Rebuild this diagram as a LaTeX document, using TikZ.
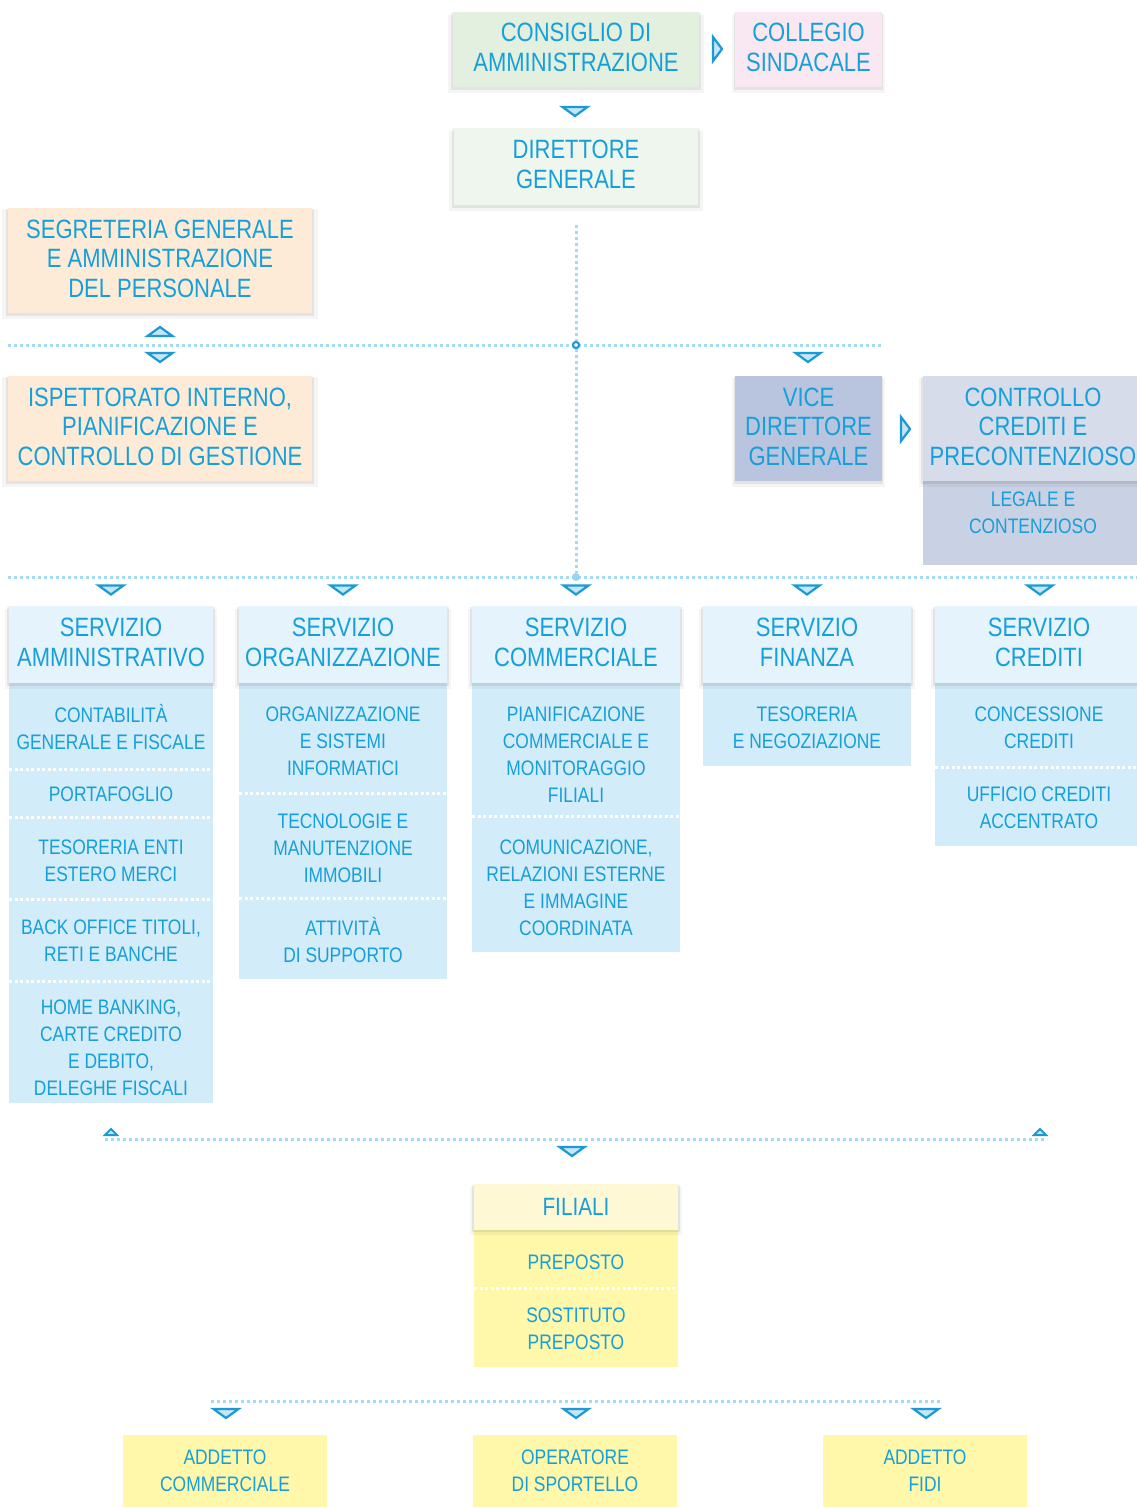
\documentclass[tikz,border=0pt]{standalone}
\usepackage{fontspec}
\setmainfont{Liberation Sans}[FakeStretch=0.83]
\usetikzlibrary{shadows}
\definecolor{tblue}{HTML}{169FD8}
\definecolor{dotc}{HTML}{A3DAF5}
\definecolor{ablue}{HTML}{1B9AD6}
\definecolor{afill}{HTML}{C4E6F7}
\definecolor{cgreen}{HTML}{E3F0DF}
\definecolor{cpink}{HTML}{F9E7F1}
\definecolor{cgreenl}{HTML}{EFF6ED}
\definecolor{cpeach}{HTML}{FDEBD7}
\definecolor{cvice}{HTML}{B9C4DF}
\definecolor{cctrl}{HTML}{D6DCEA}
\definecolor{cctrlsub}{HTML}{C9D1E4}
\definecolor{cbh}{HTML}{E5F4FC}
\definecolor{cbs}{HTML}{D3ECF9}
\definecolor{cyh}{HTML}{FEF9D4}
\definecolor{cys}{HTML}{FFF7AA}
\newcommand\hfnt{\fontsize{26.5}{29.5}\selectfont}
\newcommand\ffnt{\fontsize{25}{29}\selectfont}
\newcommand\sfnt{\fontsize{21}{27}\selectfont}
\tikzset{
  box/.style={rectangle, inner sep=0pt, align=center, text=tblue},
  hf/.style={font=\hfnt, text depth=4.5pt},
  sf/.style={font=\sfnt},
  sh/.style={general shadow={fill=black,opacity=0.07,shadow scale=1.015,shadow yshift=-2pt},
             general shadow={fill=black,opacity=0.04,shadow scale=1.04,shadow yshift=-4pt}},
  dots/.style={draw=dotc, line width=3pt, dash pattern=on 3pt off 3pt},
  sepl/.style={draw=white, line width=3pt, dash pattern=on 3pt off 2.5pt},
  arrs/.style={draw=ablue, fill=afill, line width=2.2pt, line join=miter},
  tdown/.pic={\draw[arrs] (-12.5,-4) -- (12.5,-4) -- (0,5) -- cycle;},
  tup/.pic={\draw[arrs] (-12.5,4) -- (12.5,4) -- (0,-5) -- cycle;},
  tupsm/.pic={\draw[arrs, line width=2pt] (-6,2.5) -- (6,2.5) -- (0,-3.5) -- cycle;},
  tright/.pic={\draw[arrs] (-4,-12) -- (-4,12) -- (5,0) -- cycle;},
}
\begin{document}
\begin{tikzpicture}[x=1pt,y=-1pt]
\path[use as bounding box] (0,0) rectangle (1137,1508);
\clip (0,0) rectangle (1137,1508);
\fill[white] (0,0) rectangle (1137,1508);

% bus coordinates
\coordinate (b1l) at (8,345);
\coordinate (b1r) at (882,345);
\coordinate (b2l) at (8,577);
\coordinate (b2r) at (1143,577);
\coordinate (b3l) at (105,1139);
\coordinate (b3r) at (1047,1139);
\coordinate (b4l) at (211,1401);
\coordinate (b4r) at (940,1401);
\coordinate (vtop) at (576,225);

\draw[dots] (b1l) -- (b1r);
\draw[dots] (b2l) -- (b2r);
\draw[dots] (b3l) -- (b3r);
\draw[dots] (b4l) -- (b4r);
\node[circle, draw=ablue, fill=white, line width=2pt, inner sep=0pt, minimum size=6pt] (j1) at (576,345) {};
\node[circle, fill=dotc!90!ablue, inner sep=0pt, minimum size=8pt] (j2) at (576,577) {};
\draw[dots] (vtop) -- (j1);
\draw[dots] (j1) -- (j2);
\node[circle, draw=ablue, fill=white, line width=2pt, inner sep=0pt, minimum size=6pt] at (j1) {};

% top
\node[box,hf,sh,fill=cgreen,minimum width=246pt,minimum height=75pt] (cda) at (576,49.5) {CONSIGLIO DI\\AMMINISTRAZIONE};
\node[box,hf,sh,fill=cpink,minimum width=147pt,minimum height=75pt] (cs) at (808.5,49.5) {COLLEGIO\\SINDACALE};
\node[box,hf,sh,fill=cgreenl,minimum width=244pt,minimum height=77pt] (dg) at (576,166.5) {DIRETTORE\\GENERALE};

\node[box,hf,sh,fill=cpeach,minimum width=304pt,minimum height=105pt] (seg) at (160,260.5) {SEGRETERIA GENERALE\\E AMMINISTRAZIONE\\DEL PERSONALE};
\node[box,hf,sh,fill=cpeach,minimum width=304pt,minimum height=105pt] (isp) at (160,428.5) {ISPETTORATO INTERNO,\\PIANIFICAZIONE E\\CONTROLLO DI GESTIONE};

\node[box,hf,sh,fill=cvice,minimum width=147pt,minimum height=105pt] (vdg) at (808.5,428.5) {VICE\\DIRETTORE\\GENERALE};
\node[box,fill=cctrlsub,minimum width=220pt,minimum height=84pt] (ctrlb) at (1033,523) {};
\node[box,hf,sh,fill=cctrl,minimum width=220pt,minimum height=105pt] (ctrl) at (1033,428.5) {CONTROLLO\\CREDITI E\\PRECONTENZIOSO};
\node[box,sf] (leg) at (1033,513) {LEGALE E\\CONTENZIOSO};

% service columns: sub backgrounds
\node[box,fill=cbs,minimum width=204pt,minimum height=420pt] (s1b) at (111,893) {};
\node[box,fill=cbs,minimum width=208pt,minimum height=296pt] (s2b) at (343,831) {};
\node[box,fill=cbs,minimum width=208pt,minimum height=269pt] (s3b) at (576,817.5) {};
\node[box,fill=cbs,minimum width=208pt,minimum height=83pt] (s4b) at (807,724.5) {};
\node[box,fill=cbs,minimum width=208pt,minimum height=163pt] (s5b) at (1039,764.5) {};

% separators
\draw[sepl] (9,769) -- (213,769);
\draw[sepl] (9,817) -- (213,817);
\draw[sepl] (9,899) -- (213,899);
\draw[sepl] (9,981) -- (213,981);
\draw[sepl] (239,793) -- (447,793);
\draw[sepl] (239,898) -- (447,898);
\draw[sepl] (472,816) -- (680,816);
\draw[sepl] (935,767) -- (1143,767);

% headers
\node[box,hf,sh,fill=cbh,minimum width=204pt,minimum height=77pt] (s1) at (111,644.5) {SERVIZIO\\AMMINISTRATIVO};
\node[box,hf,sh,fill=cbh,minimum width=208pt,minimum height=77pt] (s2) at (343,644.5) {SERVIZIO\\ORGANIZZAZIONE};
\node[box,hf,sh,fill=cbh,minimum width=208pt,minimum height=77pt] (s3) at (576,644.5) {SERVIZIO\\COMMERCIALE};
\node[box,hf,sh,fill=cbh,minimum width=208pt,minimum height=77pt] (s4) at (807,644.5) {SERVIZIO\\FINANZA};
\node[box,hf,sh,fill=cbh,minimum width=208pt,minimum height=77pt] (s5) at (1039,644.5) {SERVIZIO\\CREDITI};

% sub texts
\node[box,sf] (a1) at (111,726.5) {CONTABILITÀ\\GENERALE E FISCALE};
\node[box,sf] (a2) at (111,794) {PORTAFOGLIO};
\node[box,sf] (a3) at (111,860.5) {TESORERIA ENTI\\ESTERO MERCI};
\node[box,sf] (a4) at (111,940.5) {BACK OFFICE TITOLI,\\RETI E BANCHE};
\node[box,sf] (a5) at (111,1047.5) {HOME BANKING,\\CARTE CREDITO\\E DEBITO,\\DELEGHE FISCALI};
\node[box,sf] (o1) at (343,741.5) {ORGANIZZAZIONE\\E SISTEMI\\INFORMATICI};
\node[box,sf] (o2) at (343,848.5) {TECNOLOGIE E\\MANUTENZIONE\\IMMOBILI};
\node[box,sf] (o3) at (343,940) {ATTIVITÀ\\DI SUPPORTO};
\node[box,sf] (c1) at (576,755) {PIANIFICAZIONE\\COMMERCIALE E\\MONITORAGGIO\\FILIALI};
\node[box,sf] (c2) at (576,888) {COMUNICAZIONE,\\RELAZIONI ESTERNE\\E IMMAGINE\\COORDINATA};
\node[box,sf] (f1) at (807,728) {TESORERIA\\E NEGOZIAZIONE};
\node[box,sf] (k1) at (1039,728) {CONCESSIONE\\CREDITI};
\node[box,sf] (k2) at (1039,808) {UFFICIO CREDITI\\ACCENTRATO};

% filiali
\node[box,fill=cys,minimum width=204pt,minimum height=137pt] (filb) at (576,1298.5) {};
\draw[sepl] (474,1288) -- (678,1288);
\node[box,font=\ffnt,sh,fill=cyh,minimum width=204pt,minimum height=46pt] (fil) at (576,1206.5) {FILIALI};
\node[box,sf] (p1) at (576,1262.5) {PREPOSTO};
\node[box,sf] (p2) at (576,1329) {SOSTITUTO\\PREPOSTO};

% bottom
\node[box,sf,fill=cys,minimum width=204pt,minimum height=72pt] (ad1) at (225,1471) {ADDETTO\\COMMERCIALE};
\node[box,sf,fill=cys,minimum width=204pt,minimum height=72pt] (ad2) at (575,1471) {OPERATORE\\DI SPORTELLO};
\node[box,sf,fill=cys,minimum width=204pt,minimum height=72pt] (ad3) at (925,1471) {ADDETTO\\FIDI};

% arrow markers
\pic at (717,49) {tright};
\pic at (575,111) {tdown};
\pic at (160,332) {tup};
\pic at (160,357) {tdown};
\pic at (808,357) {tdown};
\pic at (905,429) {tright};
\pic at (111,589.5) {tdown};
\pic at (343,589.5) {tdown};
\pic at (576,589.5) {tdown};
\pic at (807,589.5) {tdown};
\pic at (1040,589.5) {tdown};
\pic at (111,1132.5) {tupsm};
\pic at (1040,1132.5) {tupsm};
\pic at (572,1151) {tdown};
\pic at (226,1413) {tdown};
\pic at (576,1413) {tdown};
\pic at (926,1413) {tdown};
\end{tikzpicture}
\end{document}
